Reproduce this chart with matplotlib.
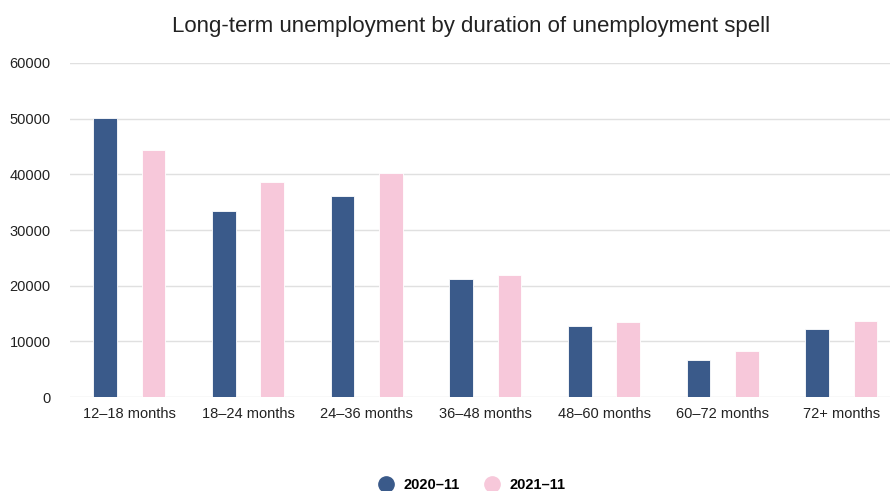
import matplotlib
matplotlib.use("Agg")
import matplotlib.pyplot as plt
import numpy as np

categories = ["12–18 months", "18–24 months", "24–36 months", "36–48 months",
              "48–60 months", "60–72 months", "72+ months"]
series_names = ["2020–11", "2021–11"]
values_2020 = [50100, 33400, 36100, 21200, 12800, 6650, 12150]
values_2021 = [44300, 38600, 40250, 21900, 13450, 8200, 13700]
y_ticks = [0, 10000, 20000, 30000, 40000, 50000, 60000]

colors = ["#3a5a8a", "#f7c8da"]

plt.rcParams["font.family"] = ["Liberation Sans", "DejaVu Sans"]

fig = plt.figure(figsize=(8.9, 4.91), dpi=100)
ax = fig.add_axes([0.0787, 0.1914, 0.9213, 0.6803])

x = np.arange(len(categories))
width = 0.2
offset = 0.204
ax.bar(x - offset, values_2020, width, color=colors[0], edgecolor="white",
       linewidth=0.6, zorder=3, label=series_names[0])
ax.bar(x + offset, values_2021, width, color=colors[1], edgecolor="white",
       linewidth=0.6, zorder=3, label=series_names[1])

ax.set_xlim(-0.5, 6.41)
ax.set_ylim(0, 60000)
ax.set_yticks(y_ticks)
ax.set_yticklabels([str(v) for v in y_ticks], fontsize=10.5, color="#222222")
ax.set_xticks(x)
ax.set_xticklabels(categories, fontsize=10.5, color="#222222")
ax.tick_params(axis="y", length=0, pad=14)
ax.tick_params(axis="x", length=0, pad=7)
ax.grid(axis="y", color="#e0e0e0", linewidth=1, zorder=0)
for s in ax.spines.values():
    s.set_visible(False)

fig.text(0.529, 0.946, "Long-term unemployment by duration of unemployment spell",
         ha="center", va="center", fontsize=16, color="#222222")

handles = [plt.Line2D([], [], marker="o", linestyle="", markersize=11,
                      color=c) for c in colors]
leg = fig.legend(handles, series_names, loc="center", bbox_to_anchor=(0.526, 0.012),
                 ncol=2, frameon=False, handletextpad=0.2, columnspacing=1.2,
                 prop={"weight": "bold", "size": 10.5})

fig.savefig("out.png", dpi=100)
